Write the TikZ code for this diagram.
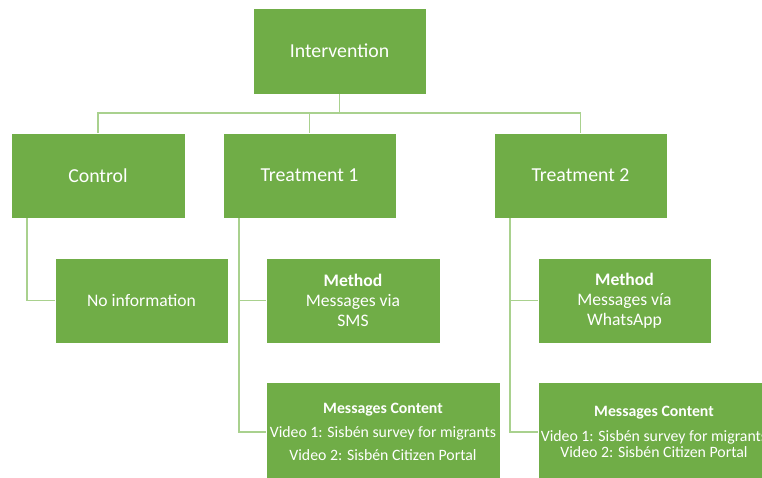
\documentclass[tikz,border=0pt]{standalone}
\usepackage{fontspec}
\setmainfont{Carlito}
\definecolor{boxgreen}{HTML}{70AD47}
\definecolor{linegreen}{HTML}{A9D18E}
\begin{document}
\begin{tikzpicture}[x=1pt,y=-1pt,
  box/.style={rectangle, fill=boxgreen, draw=white, line width=0.8pt, text=white,
    inner sep=0pt, align=center, minimum width=173pt, minimum height=85pt},
  big/.style={font=\fontsize{19.8}{24}\selectfont},
  mid/.style={font=\fontsize{17.6}{20}\selectfont},
  small/.style={font=\fontsize{15.8}{23}\selectfont},
  conn/.style={draw=linegreen, line width=1.2pt}]
\clip (0,0) rectangle (762,478);
\fill[white] (0,0) rectangle (762,478);

\node[box,big,minimum height=86pt] (I) at (339.5,51) {Intervention};
\node[box,big,minimum width=174pt] (C) at (98,175.5) {Control};
\node[box,big] (T1) at (309.5,175.5) {Treatment 1};
\node[box,big] (T2) at (580.5,175.5) {Treatment 2};
\node[box,mid] (N) at (141.5,300.5) {No information};
\node[box,mid,minimum width=174pt] (M1) at (353,300.5) {\textbf{Method}\\Messages via\\SMS};
\node[box,mid] (M2) at (624.5,300.5) {\textbf{Method}\\Messages vía\\WhatsApp};
\node[box,small,minimum width=234pt,minimum height=100pt] (MC1) at (383,432)
  {\textbf{Messages Content}\\[1pt]Video 1: Sisbén survey for migrants\\Video 2: Sisbén Citizen Portal};
\node[box,font=\fontsize{15.8}{16}\selectfont,minimum width=232pt,minimum height=100pt] (MC2) at (654,432)
  {\textbf{Messages Content}\\[9pt]Video 1: Sisbén survey for migrants\\Video 2: Sisbén Citizen Portal};

\coordinate (bus) at (339.5,113);
\draw[conn] (I.south) -- (bus);
\draw[conn] (C.north) |- (bus) -| (T2.north);
\draw[conn] (T1.north) -- (T1.north |- bus);

\coordinate (c0) at ([xshift=-71pt]C.south);
\draw[conn] (c0) |- (N.west);
\coordinate (t10) at ([xshift=-70.5pt]T1.south);
\draw[conn] (t10) |- (MC1.west);
\draw[conn] (t10 |- M1.west) -- (M1.west);
\coordinate (t20) at ([xshift=-70.5pt]T2.south);
\draw[conn] (t20) |- (MC2.west);
\draw[conn] (t20 |- M2.west) -- (M2.west);
\end{tikzpicture}
\end{document}
